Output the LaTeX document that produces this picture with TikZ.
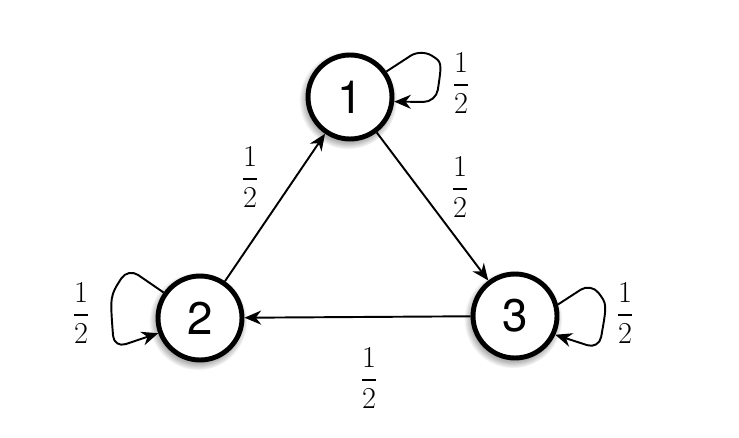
\documentclass[tikz,border=0pt]{standalone}
\usepackage{amsmath}
\usepackage{fontspec}
\newfontfamily\statefont{TeX Gyre Heros}
\usetikzlibrary{arrows.meta, shadows, calc}
\newcommand{\half}{$\displaystyle\frac{1}{2}$}

\tikzset{
    state/.style={circle, draw, fill=white, line width=2.8pt, minimum size=1.68cm, inner sep=0pt,
        font=\statefont\fontsize{26}{28}\selectfont,
        circular drop shadow={shadow xshift=-1pt, shadow yshift=-1.5pt, shadow scale=1.17, opacity=0.6}},
    prob/.style={font=\LARGE, inner sep=0pt},
    trans/.style={->, line width=1.1pt},
    selfloop/.style={trans, rounded corners=7pt},
}

\begin{document}
\begin{tikzpicture}[x=0.02cm, y=0.02cm, >={Stealth[length=9.5pt, width=8pt]}]
            \useasboundingbox (0, 0) rectangle (739, 437);

            \node[state] (n1) at (350, 340) {1};
            \node[state] (n2) at (200, 119) {2};
            \node[state] (n3) at (515, 121) {3};

            \node[prob] (p11) at (461, 354) {\half};
            \node[prob] (p21) at (250, 260) {\half};
            \node[prob] (p13) at (460, 250) {\half};
            \node[prob] (p32) at (369, 59) {\half};
            \node[prob] (p22) at (81, 124) {\half};
            \node[prob] (p33) at (625, 124) {\half};

            \draw [trans] (n2) -- (n1);
            \draw [trans] (n1) -- (n3);
            \draw [trans] (n3) -- (n2);
            % loops
            \draw [selfloop] (n1.35) -- ($(n1) + (71, 48)$) .. controls ($(n1) + (92, 35)$) .. ($(n1) + (86, -5)$) -- (n1.-6);
            \draw [selfloop] (n2.145) -- ($(n2) + (-72, 50)$) .. controls ($(n2) + (-90, 22)$) .. ($(n2) + (-86, -30)$) -- (n2.200);
            \draw [selfloop] (n3.15) -- ($(n3) + (76, 33)$) .. controls ($(n3) + (92, 12)$) .. ($(n3) + (84, -33)$) -- (n3.-25);
\end{tikzpicture}
\end{document}
